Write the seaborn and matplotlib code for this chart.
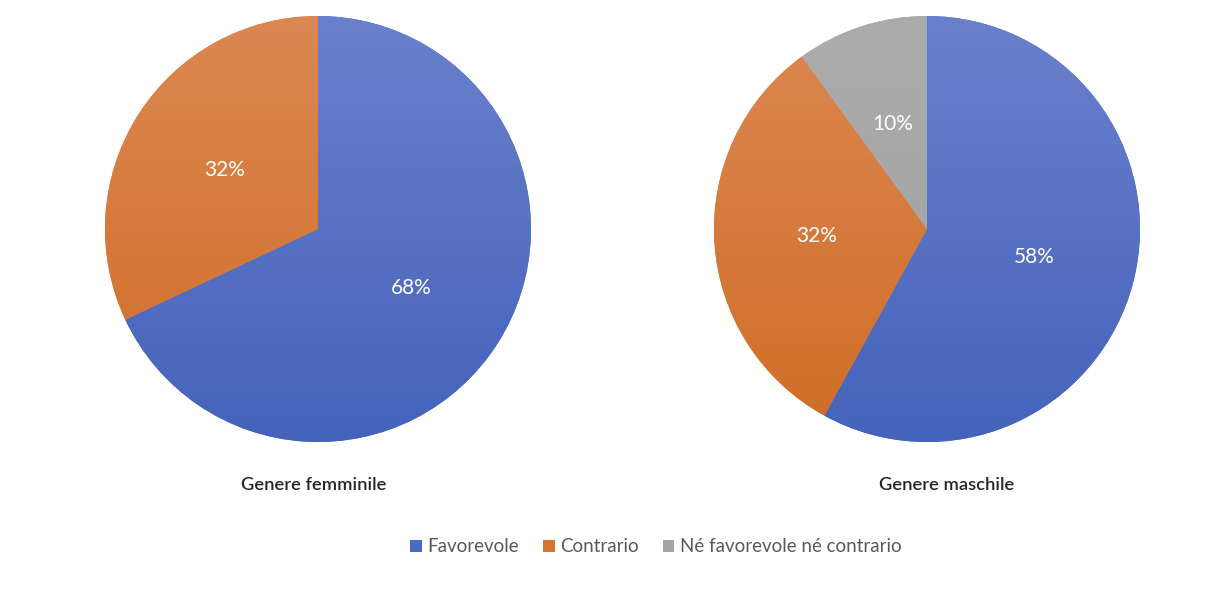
import numpy as np
import matplotlib
matplotlib.use("Agg")
import matplotlib.pyplot as plt
from matplotlib.colors import LinearSegmentedColormap
from matplotlib.patches import Patch
import seaborn as sns

# Survey shares by gender
categories = ["Favorevole", "Contrario", "Né favorevole né contrario"]
female_values = [68, 32]
male_values = [58, 32, 10]
panel_titles = ["Genere femminile", "Genere maschile"]

sns.set_theme(style="white")
plt.rcParams["font.family"] = ["Lato", "DejaVu Sans"]

# base colour plus light (top) / dark (bottom) gradient ends per category
base_colors = sns.color_palette(["#4a6cc6", "#d9722f", "#a5a5a5"])
grad_ends = [
    ("#6a80cc", "#4563bb"),
    ("#dc8853", "#cf6d26"),
    ("#acacac", "#a0a0a0"),
]

W, H = 1226, 593
fig = plt.figure(figsize=(W / 100, H / 100), dpi=100)
fig.patch.set_facecolor("white")

R_PX = 213
centers = [(318, 229), (927, 229)]
title_x = [314, 947]


def draw_pie(cx, cy, values, title, tx):
    ax = fig.add_axes([(cx - R_PX) / W, (H - cy - R_PX) / H,
                       2 * R_PX / W, 2 * R_PX / H])
    n = len(values)
    wedges, texts, autotexts = ax.pie(
        values,
        colors=base_colors[:n],
        startangle=90,
        counterclock=False,
        autopct=lambda p: f"{p:.0f}%",
        pctdistance=0.52,
        wedgeprops=dict(linewidth=0),
        textprops=dict(color="white", fontsize=15),
    )
    grad = np.linspace(0, 1, 256).reshape(-1, 1)
    for i, w in enumerate(wedges):
        cmap = LinearSegmentedColormap.from_list(f"g{i}", list(grad_ends[i]))
        im = ax.imshow(grad, cmap=cmap, extent=(-1, 1, -1, 1), origin="upper",
                       aspect="auto", zorder=1.5, interpolation="bilinear")
        im.set_clip_path(w)
    for t in autotexts:
        t.set_zorder(5)
    ax.set_xlim(-1, 1)
    ax.set_ylim(-1, 1)
    ax.set_aspect("equal")
    ax.axis("off")
    fig.text(tx / W, 1 - 485 / H, title, ha="center", va="center",
             fontsize=13.2, color="#262626", fontweight="semibold")


draw_pie(*centers[0], female_values, panel_titles[0], title_x[0])
draw_pie(*centers[1], male_values, panel_titles[1], title_x[1])

handles = [Patch(facecolor=c, edgecolor="none") for c in base_colors]
leg = fig.legend(handles, categories, loc="center", ncol=3,
                 bbox_to_anchor=(656 / W, 1 - 547 / H), frameon=False,
                 fontsize=13.5, handlelength=0.6, handleheight=0.6,
                 handletextpad=0.3, columnspacing=1.3)
for t in leg.get_texts():
    t.set_color("#595959")

fig.savefig("out.png", dpi=100, facecolor="white")
